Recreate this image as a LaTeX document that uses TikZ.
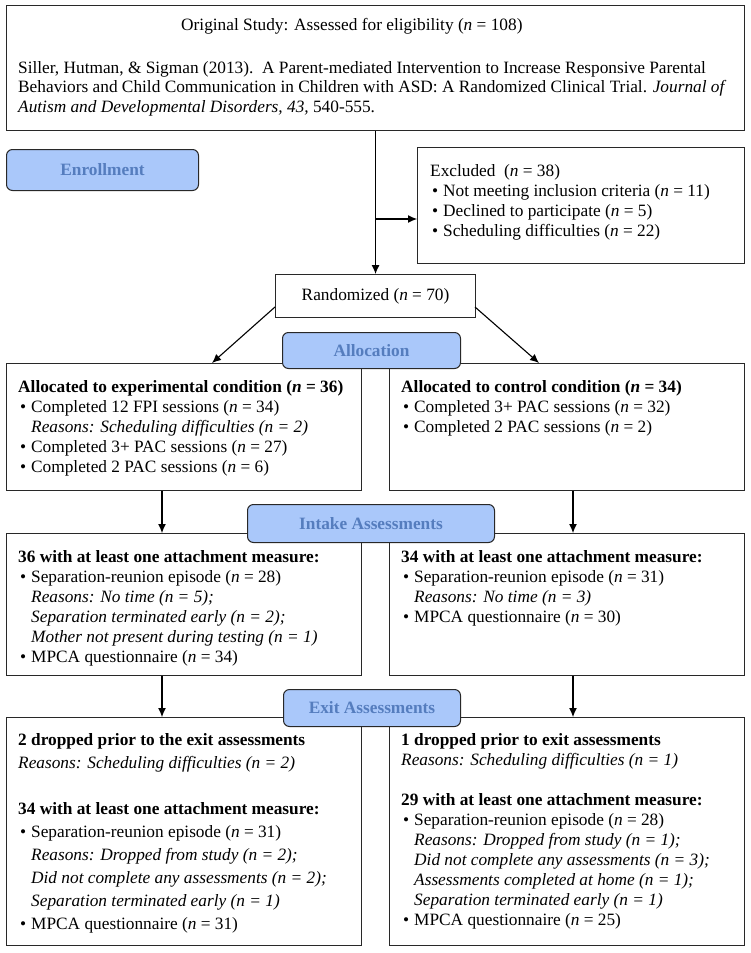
\documentclass[tikz,border=0pt]{standalone}
\usepackage{fontspec}
\setmainfont{Liberation Serif}
\usetikzlibrary{arrows.meta}
\definecolor{bfill}{RGB}{170,200,250}
\definecolor{btext}{RGB}{85,125,190}
\definecolor{edge}{RGB}{40,40,40}
\newcommand{\bul}{\makebox[13pt][l]{\hspace{2pt}\textbullet}}
\newcommand{\ind}{\hspace*{13pt}}
\newcommand{\nn}{\textit{n}}
\begin{document}
\begin{tikzpicture}[x=1pt,y=-1pt,
 box/.style={draw=edge,line width=1.1pt,rectangle,anchor=north west,inner sep=0pt,fill=white},
 lab/.style={draw=edge,line width=1pt,rounded corners=6pt,fill=bfill,anchor=north west,inner sep=0pt,font=\fontsize{17.3}{20}\selectfont\bfseries,text=btext},
 txt/.style={anchor=north west,inner sep=0pt,align=left,font=\fontsize{17.3}{20}\selectfont},
 arr/.style={draw=black,line width=1.1pt,-{Latex[length=9pt,width=8pt]}}]
\useasboundingbox[fill=white] (0,0) rectangle (750,953);

% boxes
\node[box,minimum width=738pt,minimum height=125pt] (top) at (6,5) {};
\node[box,minimum width=327pt,minimum height=116pt] (excl) at (417,147) {};
\node[box,minimum width=200pt,minimum height=43pt,font=\fontsize{17.3}{20}\selectfont] (rand) at (275,274) {Randomized (\nn{} = 70)};
\node[box,minimum width=355pt,minimum height=127pt] (exp) at (6,363) {};
\node[box,minimum width=355pt,minimum height=127pt] (ctrl) at (389,363) {};
\node[box,minimum width=355pt,minimum height=142pt] (inl) at (6,533) {};
\node[box,minimum width=355pt,minimum height=142pt] (inr) at (389,533) {};
\node[box,minimum width=355pt,minimum height=228pt] (exl) at (6,717) {};
\node[box,minimum width=355pt,minimum height=228pt] (exr) at (389,717) {};

% texts
\node[txt] (t0) at (181,16) {\rule{0pt}{14pt}Original Study: Assessed for eligibility (\nn{} = 108)};
\node[txt,font=\fontsize{17.3}{19.5}\selectfont] (t1) at (18,59) {\rule{0pt}{14pt}Siller, Hutman, \& Sigman (2013).\ \ A Parent-mediated Intervention to Increase Responsive Parental\\
Behaviors and Child Communication in Children with ASD: A Randomized Clinical Trial. \textit{Journal of}\\
\textit{Autism and Developmental Disorders, 43,} 540-555.};
\node[txt] (t2) at (430,162) {\rule{0pt}{14pt}Excluded\ \ (\nn{} = 38)\\
\bul Not meeting inclusion criteria (\nn{} = 11)\\
\bul Declined to participate (\nn{} = 5)\\
\bul Scheduling difficulties (\nn{} = 22)};
\node[txt] (t3) at (18,378) {\rule{0pt}{14pt}\textbf{Allocated to experimental condition (\nn{} = 36)}\\
\bul Completed 12 FPI sessions (\nn{} = 34)\\
\ind\textit{Reasons: Scheduling difficulties (n = 2)}\\
\bul Completed 3+ PAC sessions (\nn{} = 27)\\
\bul Completed 2 PAC sessions (\nn{} = 6)};
\node[txt] (t4) at (401,378) {\rule{0pt}{14pt}\textbf{Allocated to control condition (\nn{} = 34)}\\
\bul Completed 3+ PAC sessions (\nn{} = 32)\\
\bul Completed 2 PAC sessions (\nn{} = 2)};
\node[txt] (t5) at (18,548) {\rule{0pt}{14pt}\textbf{36 with at least one attachment measure:}\\
\bul Separation-reunion episode (\nn{} = 28)\\
\ind\textit{Reasons: No time (n = 5);}\\
\ind\textit{Separation terminated early (n = 2);}\\
\ind\textit{Mother not present during testing (n = 1)}\\
\bul MPCA questionnaire (\nn{} = 34)};
\node[txt] (t6) at (401,548) {\rule{0pt}{14pt}\textbf{34 with at least one attachment measure:}\\
\bul Separation-reunion episode (\nn{} = 31)\\
\ind\textit{Reasons: No time (n = 3)}\\
\bul MPCA questionnaire (\nn{} = 30)};
\node[txt,font=\fontsize{17.3}{23}\selectfont] (t7) at (18,731) {\rule{0pt}{14pt}\textbf{2 dropped prior to the exit assessments}\\
\textit{Reasons: Scheduling difficulties (n = 2)}\\[23pt]
\textbf{34 with at least one attachment measure:}\\
\bul Separation-reunion episode (\nn{} = 31)\\
\ind\textit{Reasons: Dropped from study (n = 2);}\\
\ind\textit{Did not complete any assessments (n = 2);}\\
\ind\textit{Separation terminated early (n = 1)}\\
\bul MPCA questionnaire (\nn{} = 31)};
\node[txt] (t8) at (401,731) {\rule{0pt}{14pt}\textbf{1 dropped prior to exit assessments}\\
\textit{Reasons: Scheduling difficulties (n = 1)}\\[20pt]
\textbf{29 with at least one attachment measure:}\\
\bul Separation-reunion episode (\nn{} = 28)\\
\ind\textit{Reasons: Dropped from study (n = 1);}\\
\ind\textit{Did not complete any assessments (n = 3);}\\
\ind\textit{Assessments completed at home (n = 1);}\\
\ind\textit{Separation terminated early (n = 1)}\\
\bul MPCA questionnaire (\nn{} = 25)};

% connectors
\coordinate (br) at (375,219);
\coordinate (cl) at (162,0);
\coordinate (cr) at (573,0);
\coordinate (dl0) at (275,307);
\coordinate (dr0) at (475,307);
\coordinate (dl1) at (212,363);
\coordinate (dr1) at (539,363);
\draw[arr] (top.south) -- (rand.north);
\draw[arr] (br) -- (br -| excl.west);
\draw[arr] (dl0) -- (dl1);
\draw[arr] (dr0) -- (dr1);
\draw[arr] (exp.south -| cl) -- (inl.north -| cl);
\draw[arr] (ctrl.south -| cr) -- (inr.north -| cr);
\draw[arr] (inl.south -| cl) -- (exl.north -| cl);
\draw[arr] (inr.south -| cr) -- (exr.north -| cr);

% labels
\node[lab,minimum width=192pt,minimum height=41pt] (enr) at (6,149) {Enrollment};
\node[lab,minimum width=178pt,minimum height=36pt] (alloc) at (282,332) {Allocation};
\node[lab,minimum width=247pt,minimum height=38pt] (intake) at (247,504) {Intake Assessments};
\node[lab,minimum width=177pt,minimum height=37pt] (exit) at (283,689) {Exit Assessments};
\end{tikzpicture}
\end{document}
